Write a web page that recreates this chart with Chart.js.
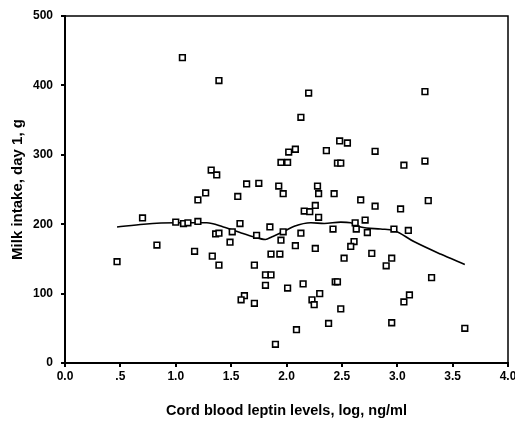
<!DOCTYPE html>
<html>
<head>
<meta charset="utf-8">
<script src="https://cdn.jsdelivr.net/npm/chart.js@4/dist/chart.umd.min.js"></script>
<style>
  html, body { margin: 0; padding: 0; background: #fff; }
  #wrap { width: 515px; height: 423px; }
</style>
</head>
<body>
<div id="wrap"><canvas id="leptin_chart" width="515" height="423"></canvas></div>
<script>
// scatter: cord blood leptin (log) vs milk intake day 1
let leptinX = [0.47, 0.70, 0.83, 1.00, 1.07, 1.11, 1.06, 1.39, 1.32, 1.37,
               1.64, 1.75, 1.93, 1.95, 2.01, 2.02, 2.08, 2.13, 2.20, 3.25,
               2.36, 2.48, 2.55, 2.80, 2.46, 2.49, 3.06, 3.25, 2.28, 1.97,
               1.27, 1.20, 1.56, 2.29, 2.43, 2.67, 2.80, 3.03, 3.28, 2.16,
               2.21, 2.26, 2.29, 1.20, 1.58, 1.85, 1.97, 1.36, 1.39, 1.51,
               1.73, 1.49, 1.95, 2.13, 2.42, 2.62, 2.63, 2.71, 2.73, 2.97,
               3.10, 2.08, 2.26, 2.61, 2.58, 2.77, 2.52, 2.95, 2.90, 3.31,
               1.17, 1.33, 1.39, 1.86, 1.94, 1.71, 1.81, 1.86, 1.81, 2.01,
               2.15, 2.44, 2.46, 1.62, 1.59, 1.71, 2.30, 2.23, 2.25, 2.49,
               3.11, 3.06, 2.38, 2.09, 2.95, 3.61, 1.90];
let milkIntake = [146, 209, 170, 203, 201, 202, 440, 407, 278, 271,
                  258, 259, 255, 289, 289, 304, 308, 354, 389, 391,
                  306, 320, 317, 305, 288, 288, 285, 291, 255, 244,
                  245, 235, 240, 244, 244, 235, 226, 222, 234, 219,
                  218, 227, 210, 204, 201, 196, 189, 186, 187, 189,
                  184, 174, 177, 187, 193, 202, 193, 206, 188, 193,
                  191, 169, 165, 175, 168, 158, 151, 151, 140, 123,
                  161, 154, 141, 157, 157, 141, 127, 127, 112, 108,
                  114, 117, 117, 97, 91, 86, 100, 91, 84, 78,
                  98, 88, 57, 48, 58, 50, 27];

// smoothed fit line
let fitX = [0.47, 0.71, 1.00, 1.28, 1.43, 1.58, 1.70, 1.81, 1.87, 1.97, 2.07,
            2.22, 2.34, 2.49, 2.58, 2.67, 2.85, 2.97, 3.15, 3.39, 3.61];
let fitY = [196, 200, 202, 202, 196, 188, 182, 178, 182, 189, 197,
            202, 201, 203, 202, 196, 193, 191, 175, 157, 142];

let xTickLabels = ["0.0", ".5", "1.0", "1.5", "2.0", "2.5", "3.0", "3.5", "4.0"];
let yTickLabels = ["0", "100", "200", "300", "400", "500"];

let scatterPts = leptinX.map(function (x, i) { return {x: x, y: milkIntake[i]}; });
let fitPts = fitX.map(function (x, i) { return {x: x, y: fitY[i]}; });

// thin box round the plot area (top / right edges)
const frameBox = {
    id: "frameBox",
    afterDraw: function (chart) {
        let a = chart.chartArea;
        let ctx = chart.ctx;
        ctx.save();
        ctx.strokeStyle = "#000";
        ctx.lineWidth = 1.5;
        ctx.beginPath();
        ctx.moveTo(a.left, a.top);
        ctx.lineTo(a.right, a.top);
        ctx.lineTo(a.right, a.bottom);
        ctx.stroke();
        ctx.restore();
    }
};

const tickFont = {family: "'Liberation Sans', Arial, sans-serif", size: 12, weight: "bold"};
const xTitleFont = {family: "'Liberation Sans', Arial, sans-serif", size: 14.5, weight: "bold"};
const yTitleFont = {family: "'Liberation Sans', Arial, sans-serif", size: 15, weight: "bold"};

new Chart("leptin_chart", {
    type: "scatter",
    data: {
        datasets: [{
            label: "Milk intake",
            data: scatterPts,
            pointStyle: "rect",
            pointRadius: 4,
            pointBorderWidth: 1.6,
            borderColor: "#000",
            backgroundColor: "#fff"
        },
        {
            label: "Fit",
            data: fitPts,
            showLine: true,
            pointRadius: 0,
            borderColor: "#000",
            borderWidth: 1.6,
            tension: 0.4,
            cubicInterpolationMode: "monotone",
            fill: false
        }]
    },
    options: {
        responsive: false,
        animation: false,
        events: [],
        layout: {padding: {left: 0, top: 16, right: 7, bottom: 0}},
        plugins: {
            legend: {display: false},
            title: {display: false},
            tooltip: {enabled: false}
        },
        scales: {
            x: {
                type: "linear",
                min: 0,
                max: 4,
                afterBuildTicks: function (s) {
                    s.ticks = xTickLabels.map(function (t, i) { return {value: i * 0.5}; });
                },
                afterFit: function (s) {
                    s.height = 60;
                    s.paddingLeft = 0;
                    s.paddingRight = 0;
                },
                ticks: {
                    color: "#000",
                    font: tickFont,
                    padding: 2,
                    maxRotation: 0,
                    autoSkip: false,
                    callback: function (v, i) { return xTickLabels[i]; }
                },
                grid: {display: true, drawOnChartArea: false, drawTicks: true, tickLength: 4, color: "#000", lineWidth: 2},
                border: {display: true, color: "#000", width: 2},
                title: {
                    display: true,
                    text: "Cord blood leptin levels, log, ng/ml",
                    color: "#000",
                    font: xTitleFont,
                    padding: {top: 3, bottom: 3}
                }
            },
            y: {
                type: "linear",
                min: 0,
                max: 500,
                afterBuildTicks: function (s) {
                    s.ticks = yTickLabels.map(function (t) { return {value: Number(t)}; });
                },
                afterFit: function (s) {
                    s.width = 65;
                    s.paddingTop = 0;
                    s.paddingBottom = 0;
                },
                ticks: {
                    color: "#000",
                    font: tickFont,
                    padding: 8,
                    autoSkip: false,
                    callback: function (v, i) { return yTickLabels[i]; }
                },
                grid: {display: true, drawOnChartArea: false, drawTicks: true, tickLength: 4, color: "#000", lineWidth: 2},
                border: {display: true, color: "#000", width: 2},
                title: {
                    display: true,
                    text: "Milk intake, day 1, g",
                    color: "#000",
                    font: yTitleFont,
                    padding: {top: 9, bottom: 9}
                }
            }
        }
    },
    plugins: [frameBox]
});
</script>
</body>
</html>
